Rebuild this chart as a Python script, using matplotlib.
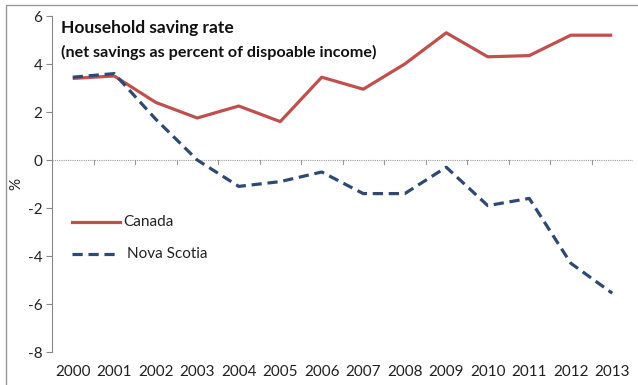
import matplotlib
matplotlib.use("Agg")
import matplotlib.pyplot as plt
from matplotlib.lines import Line2D
from matplotlib.patches import Rectangle

plt.rcParams['font.family'] = ['Lato', 'DejaVu Sans']

years = ['2000', '2001', '2002', '2003', '2004', '2005', '2006', '2007',
         '2008', '2009', '2010', '2011', '2012', '2013']
canada = [3.4, 3.5, 2.4, 1.75, 2.25, 1.6, 3.45, 2.95, 4.0, 5.3, 4.3, 4.35, 5.2, 5.2]
nova_scotia = [3.45, 3.6, 1.7, 0.0, -1.1, -0.9, -0.5, -1.4, -1.4, -0.3, -1.9, -1.6, -4.3, -5.55]
yticks = [6, 4, 2, 0, -2, -4, -6, -8]

W, H = 638, 385
fig = plt.figure(figsize=(W / 100, H / 100), dpi=100)
ax = fig.add_axes([52 / W, 1 - 352 / H, (633 - 52) / W, (352 - 16) / H])

x = list(range(len(years)))
red = '#C0504D'
blue = '#2E4A74'
ax.plot(x, canada, color=red, lw=2.3, solid_capstyle='butt')
ax.plot(x, nova_scotia, color=blue, lw=2.3, ls=(0, (3.2, 1.8)))

ax.set_xlim(-0.5, len(years) - 0.5)
ax.set_ylim(-8, 6)
ax.set_yticks(yticks)
ax.set_yticklabels([str(v) for v in yticks], fontsize=11, color='#222222')
ax.set_xticks(x)
ax.set_xticklabels(years, fontsize=11, color='#222222')
ax.tick_params(axis='x', length=0, pad=9)
ax.tick_params(axis='y', length=4, width=0.8, color='#888888', pad=3)

for s in ['top', 'right', 'bottom']:
    ax.spines[s].set_visible(False)
ax.spines['left'].set_color('#888888')
ax.spines['left'].set_linewidth(0.8)

# zero line with category-boundary ticks
ax.axhline(0, color='#999999', lw=0.8, ls=(0, (1, 1)), zorder=0)
for b in range(len(years) + 1):
    ax.plot([b - 0.5, b - 0.5], [0, -0.15], color='#999999', lw=0.8, zorder=0)

ax.set_ylabel('%', fontsize=11, labelpad=3, color='#222222')

fig.text(61 / W, 1 - 28 / H, 'Household saving rate', fontsize=12.5,
         fontweight='bold', va='center', ha='left', color='#111111')
fig.text(61 / W, 1 - 52 / H, '(net savings as percent of dispoable income)', fontsize=11.6,
         fontweight='bold', va='center', ha='left', color='#111111')

# legend
fig.add_artist(Line2D([72 / W, 120 / W], [1 - 222 / H] * 2, color=red, lw=2.3))
fig.text(123 / W, 1 - 222 / H, 'Canada', fontsize=11, va='center', ha='left', color='#222222')
fig.add_artist(Line2D([72 / W, 116 / W], [1 - 254 / H] * 2, color=blue, lw=2.3,
                      ls=(0, (3.2, 1.8))))
fig.text(127 / W, 1 - 254 / H, 'Nova Scotia', fontsize=11, va='center', ha='left', color='#222222')

# outer frame
fig.add_artist(Rectangle((6 / W, -0.02), 1.0, 1 - 5 / H + 0.02, transform=fig.transFigure,
                         fill=False, edgecolor='#999999', lw=1.0))

fig.savefig('out.png', dpi=100)
